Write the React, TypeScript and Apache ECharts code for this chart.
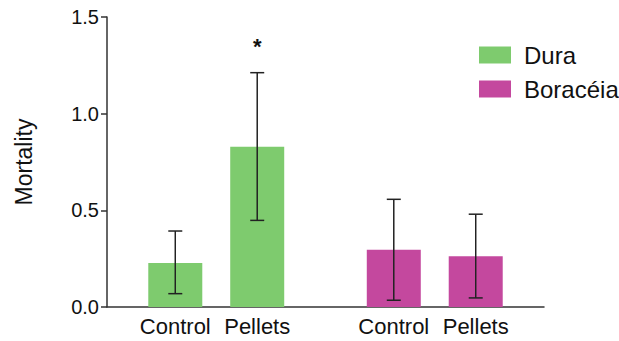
import React, { useEffect, useRef } from "react";
import * as echarts from "echarts";

const treatments = ["Control", "Pellets"];
const groups = ["Dura", "Boracéia"];
const duraMean = [0.228, 0.829];
const duraLow = [0.069, 0.448];
const duraHigh = [0.393, 1.212];
const boraMean = [0.296, 0.262];
const boraLow = [0.035, 0.047];
const boraHigh = [0.557, 0.48];
const significance = ["", "*", "", ""];
const yTicks = [0, 0.5, 1.0, 1.5];

const colors = ["#7ECB6E", "#C4489E"];

export default function App() {
  const ref = useRef<HTMLDivElement>(null);
  useEffect(() => {
    if (!ref.current) return;
    const chart = echarts.init(ref.current, null, { renderer: "svg" });
    // layout: 16 narrow slots, bars sit at slots 2,5 (Dura) and 10,13 (Boracéia)
    const slotCount = 16;
    const groupSlots = [
      [2, 5],
      [10, 13],
    ];
    const cats: string[] = [];
    const labelAt: Record<number, string> = {};
    for (let i = 0; i < slotCount; i++) cats.push("slot" + i);
    groupSlots.forEach((g) => g.forEach((s, j) => (labelAt[s] = treatments[j])));

    const means = [duraMean, boraMean];
    const lows = [duraLow, boraLow];
    const highs = [duraHigh, boraHigh];

    const barSeries = groups.map((name, gi) => {
      const data: any[] = new Array(slotCount).fill("-");
      groupSlots[gi].forEach((s, j) => (data[s] = means[gi][j]));
      return {
        name,
        type: "bar",
        data,
        barWidth: 54,
        barGap: "-100%",
        itemStyle: { color: colors[gi] },
        z: 2,
      };
    });

    const errData: any[] = [];
    let k = 0;
    groups.forEach((_, gi) => {
      groupSlots[gi].forEach((s, j) => {
        errData.push([s, lows[gi][j], highs[gi][j], significance[k]]);
        k++;
      });
    });

    const option: any = {
      animation: false,
      textStyle: { fontFamily: "Liberation Sans, Arial, sans-serif" },
      grid: { left: 107, right: 75, top: 17, bottom: 34 },
      legend: {
        orient: "vertical",
        left: 474,
        top: 38,
        itemWidth: 32,
        itemHeight: 17,
        itemGap: 10,
        icon: "rect",
        data: groups,
        textStyle: {
          fontSize: 24,
          color: "#111",
          padding: [0, 0, 0, 8],
          fontFamily: "Liberation Sans, Arial, sans-serif",
        },
      },
      xAxis: {
        type: "category",
        data: cats,
        boundaryGap: true,
        axisLine: { lineStyle: { color: "#333", width: 1.5 } },
        axisTick: {
          alignWithLabel: true,
          length: 6,
          interval: (i: number) => labelAt[i] !== undefined,
          lineStyle: { color: "#333", width: 1.5 },
        },
        axisLabel: {
          interval: (i: number) => labelAt[i] !== undefined,
          formatter: (_v: string, i: number) => labelAt[i] || "",
          fontSize: 22,
          color: "#111",
          margin: 8,
        },
        splitLine: { show: false },
      },
      yAxis: {
        type: "value",
        min: yTicks[0],
        max: yTicks[yTicks.length - 1],
        interval: 0.5,
        name: "Mortality",
        nameLocation: "middle",
        nameGap: 72,
        nameTextStyle: { fontSize: 23, color: "#111" },
        axisLine: { show: true, lineStyle: { color: "#333", width: 1.5 } },
        axisTick: { show: true, length: 6, lineStyle: { color: "#333", width: 1.5 } },
        axisLabel: {
          fontSize: 20,
          color: "#111",
          margin: 8,
          formatter: (v: number) => v.toFixed(1),
        },
        splitLine: { show: false },
      },
      series: [
        ...barSeries,
        {
          type: "custom",
          name: "err",
          z: 5,
          data: errData,
          renderItem: (params: any, api: any) => {
            const x = api.value(0);
            const lo = api.coord([x, api.value(1)]);
            const hi = api.coord([x, api.value(2)]);
            const sig = errData[params.dataIndex][3];
            const hw = 7;
            const style = { stroke: "#222", lineWidth: 1.5 };
            const children: any[] = [
              { type: "line", shape: { x1: lo[0], y1: lo[1], x2: hi[0], y2: hi[1] }, style },
              { type: "line", shape: { x1: lo[0] - hw, y1: lo[1], x2: lo[0] + hw, y2: lo[1] }, style },
              { type: "line", shape: { x1: hi[0] - hw, y1: hi[1], x2: hi[0] + hw, y2: hi[1] }, style },
            ];
            if (sig) {
              children.push({
                type: "text",
                style: {
                  text: sig,
                  x: hi[0],
                  y: hi[1] - 26,
                  align: "center",
                  verticalAlign: "middle",
                  fontSize: 22,
                  fontWeight: "bold",
                  fill: "#111",
                  fontFamily: "Liberation Sans, Arial, sans-serif",
                },
              });
            }
            return { type: "group", children };
          },
        },
      ],
    };
    chart.setOption(option);
    return () => chart.dispose();
  }, []);
  return <div ref={ref} style={{ width: 619, height: 341, position: "absolute", left: 0, top: 0 }} />;
}
